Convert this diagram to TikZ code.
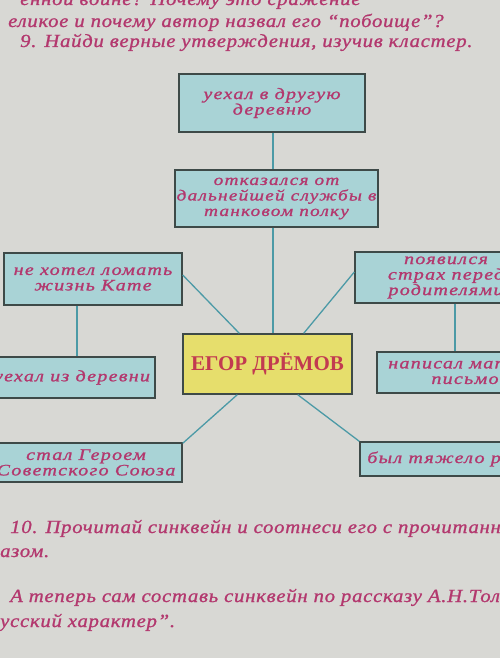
\documentclass[tikz,border=0pt]{standalone}
\usepackage{fontspec}
\setmainfont{Liberation Serif}
\newfontfamily\boxfont[LetterSpace=8,FakeStretch=1.25,FakeBold=1.2]{Liberation Serif}
\newfontfamily\headfont[LetterSpace=4,FakeStretch=1.12,FakeBold=1]{Liberation Serif}
\definecolor{pagebg}{HTML}{D8D8D4}
\definecolor{inkpink}{HTML}{B3386E}
\definecolor{boxfill}{HTML}{A9D3D6}
\definecolor{boxedge}{HTML}{3E4A48}
\definecolor{linkc}{HTML}{4C9AA6}
\definecolor{centfill}{HTML}{E6DE6C}
\definecolor{centtext}{HTML}{C23A50}
\tikzset{
  ibox/.style={draw=boxedge, line width=1.4pt, fill=boxfill, align=center, inner sep=0pt,
    font=\boxfont\itshape\fontsize{16}{15.5}\selectfont, text=inkpink},
  cbox/.style={draw=boxedge, line width=1.4pt, fill=centfill, align=center, inner sep=0pt,
    font=\bfseries\fontsize{21}{22}\selectfont, text=centtext},
  link/.style={draw=linkc, line width=1.3pt},
  ptext/.style={anchor=base west, inner sep=0pt, text=inkpink,
    font=\headfont\itshape\fontsize{18.5}{19}\selectfont}
}
\begin{document}
\begin{tikzpicture}[x=1pt,y=-1pt]
\useasboundingbox (0,0) rectangle (500,658);
\clip (0,0) rectangle (500,658);
\fill[pagebg] (0,0) rectangle (500,658);

% header text
\node[ptext] (h0) at (20,5) {енной войне? Почему это сражение};
\node[ptext] (h1) at (8,27) {еликое и почему автор назвал его “побоище”?};
\node[ptext] (h2) at (20,47) {9. Найди верные утверждения, изучив кластер.};

% boxes
\node[ibox, minimum width=186pt, minimum height=58pt] (A) at (272,103) {уехал в другую\\деревню};
\node[ibox, minimum width=203pt, minimum height=57pt, font=\boxfont\itshape\fontsize{15.4}{15.5}\selectfont] (B) at (276.5,198.5) {отказался от\\дальнейшей службы в\\танковом полку};
\node[ibox, minimum width=178pt, minimum height=52pt] (C) at (93,279) {не хотел ломать\\жизнь Кате};
\node[ibox, minimum width=182pt, minimum height=51pt] (D) at (446,277.5) {появился\\страх перед\\родителями};
\node[cbox, minimum width=169pt, minimum height=60pt] (E) at (267.5,364) {ЕГОР ДРЁМОВ};
\node[ibox, minimum width=166pt, minimum height=41pt] (F) at (72,377.5) {уехал из деревни};
\node[ibox, minimum width=176pt, minimum height=41pt] (G) at (465,372.5) {написал матери\\письмо};
\node[ibox, minimum width=192pt, minimum height=39pt] (H) at (86,462.5) {стал Героем\\Советского Союза};
\node[ibox, minimum width=192pt, minimum height=34pt] (I) at (456,459) {был тяжело ранен};

% connectors
\draw[link] ([xshift=1pt]A.south) -- ([xshift=-3.5pt]B.north);
\draw[link] ([xshift=-3.5pt]B.south) -- ([xshift=5.5pt]E.north);
\draw[link] ([xshift=-16pt]C.south) -- ([xshift=5pt]F.north);
\draw[link] ([xshift=9pt]D.south) -- ([xshift=-10pt]G.north);
\draw[link] ([yshift=4pt]C.east) -- ([xshift=57pt]E.north west);
\draw[link] ([yshift=5.5pt]D.west) -- ([xshift=-49pt]E.north east);
\draw[link] ([yshift=-1pt]H.north east) -- ([xshift=55pt]E.south west);
\draw[link] (I.north west) -- ([xshift=-55pt]E.south east);

% footer text
\node[ptext] (f1) at (10,533) {10. Прочитай синквейн и соотнеси его с прочитанным рас-};
\node[ptext] (f2) at (0,557) {азом.};
\node[ptext] (f3) at (10,602) {А теперь сам составь синквейн по рассказу А.Н.Толстого};
\node[ptext] (f4) at (0,627) {усский характер”.};
\end{tikzpicture}
\end{document}
